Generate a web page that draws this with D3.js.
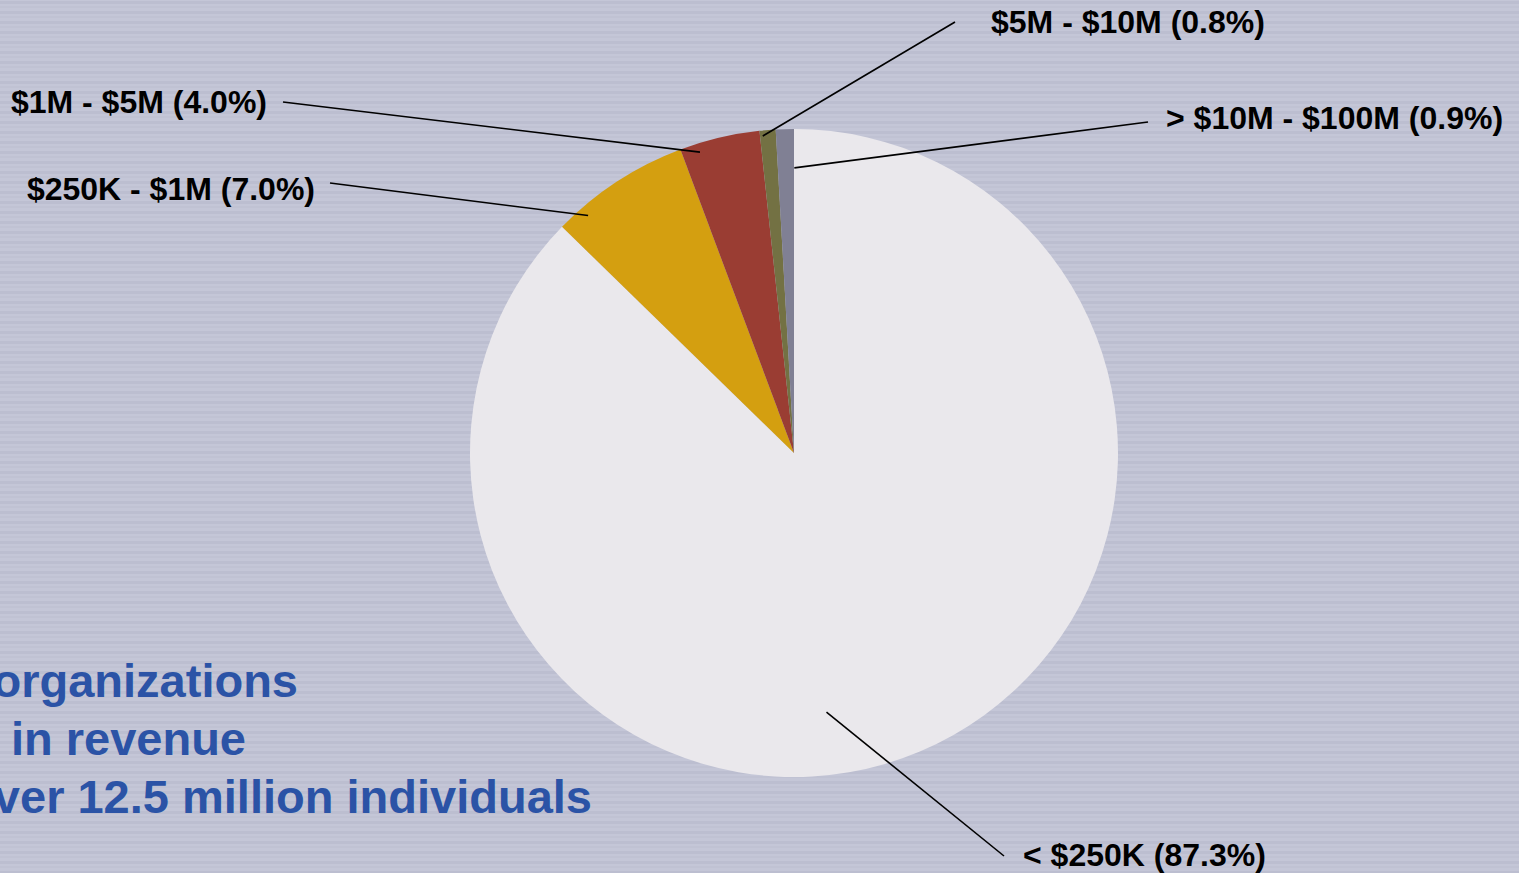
<!DOCTYPE html>
<html>
<head>
<meta charset="utf-8">
<script src="https://cdn.jsdelivr.net/npm/d3@7"></script>
<style>
  html, body { margin: 0; padding: 0; overflow: hidden; background: #c3c5d6; }
  svg { display: block; }
</style>
</head>
<body>
<svg id="chart"></svg>
<script>
const width = 1519;
const height = 873;

const categories = ["< $250K", "$250K - $1M", "$1M - $5M", "$5M - $10M", "> $10M - $100M"];
const shares = [87.3, 7.0, 4.0, 0.8, 0.9];
const sliceColors = ["#eae8ec", "#d49f10", "#9a3d33", "#737143", "#808094"];
const noteLines = ["organizations", "in revenue", "over 12.5 million individuals"];

// where each label sits and where its leader starts / ends inside the slice
const labelSpots = [
    {x: 1023, y: 855, lx: 1004, ly: 856, at: 0.55, rr: 0.806, anchor: "start"},
    {x: 315, y: 189, lx: 330, ly: 183, at: 0.19, rr: 0.97, anchor: "end"},
    {x: 267, y: 102, lx: 283, ly: 102, at: 0.22, rr: 0.973, anchor: "end"},
    {x: 991, y: 22, lx: 955, ly: 22, at: 0.17, rr: 0.983, anchor: "start"},
    {x: 1166, y: 118, lx: 1148, ly: 122, at: 1.02, rr: 0.88, anchor: "start"}
];

const svg = d3.select("#chart")
    .attr("width", width)
    .attr("height", height);

// striped backdrop
const defs = svg.append("defs");
const pat = defs.append("pattern")
    .attr("id", "stripes")
    .attr("patternUnits", "userSpaceOnUse")
    .attr("width", 10)
    .attr("height", 10);
pat.append("rect").attr("width", 10).attr("height", 10).attr("fill", "#c4c6d7");
pat.append("rect").attr("y", 1).attr("width", 10).attr("height", 3).attr("fill", "#bcbed0");
pat.append("rect").attr("y", 6).attr("width", 10).attr("height", 2).attr("fill", "#c0c2d3");

svg.append("rect")
    .attr("width", width)
    .attr("height", height)
    .attr("fill", "url(#stripes)");

// note text, partly cut by the left edge
const notes = svg.append("g")
    .attr("font-family", "'Liberation Sans', Arial, sans-serif")
    .attr("font-weight", "bold")
    .attr("font-size", 47)
    .attr("fill", "#2b53a6");
const noteEnds = [298, 246, 592];
notes.selectAll("text")
    .data(noteLines)
    .enter().append("text")
    .attr("x", (d, i) => noteEnds[i])
    .attr("y", (d, i) => 697 + i * 58)
    .attr("text-anchor", "end")
    .text(d => d);

const cx = 794, cy = 453, radius = 324;

const pie = d3.pie().sort(null).value(d => d);
const arcs = pie(shares);
const arc = d3.arc().innerRadius(0).outerRadius(radius);

const pieGroup = svg.append("g").attr("transform", `translate(${cx},${cy})`);

pieGroup.selectAll("path")
    .data(arcs)
    .enter().append("path")
    .attr("d", arc)
    .attr("fill", (d, i) => sliceColors[i]);

// leader lines
const leaders = svg.append("g");
arcs.forEach((a, i) => {
    const s = labelSpots[i];
    const ang = a.startAngle + (a.endAngle - a.startAngle) * s.at;
    const px = cx + Math.sin(ang) * radius * s.rr;
    const py = cy - Math.cos(ang) * radius * s.rr;
    leaders.append("line")
        .attr("x1", s.lx).attr("y1", s.ly)
        .attr("x2", px).attr("y2", py)
        .attr("stroke", "#000")
        .attr("stroke-width", 1.6);
});

// labels
svg.append("g")
    .attr("font-family", "'Liberation Sans', Arial, sans-serif")
    .attr("font-weight", "bold")
    .attr("font-size", 32)
    .attr("fill", "#000")
    .selectAll("text")
    .data(arcs)
    .enter().append("text")
    .attr("x", (d, i) => labelSpots[i].x)
    .attr("y", (d, i) => labelSpots[i].y)
    .attr("dy", "0.35em")
    .attr("text-anchor", (d, i) => labelSpots[i].anchor)
    .text((d, i) => `${categories[i]} (${shares[i].toFixed(1)}%)`);
</script>
</body>
</html>
